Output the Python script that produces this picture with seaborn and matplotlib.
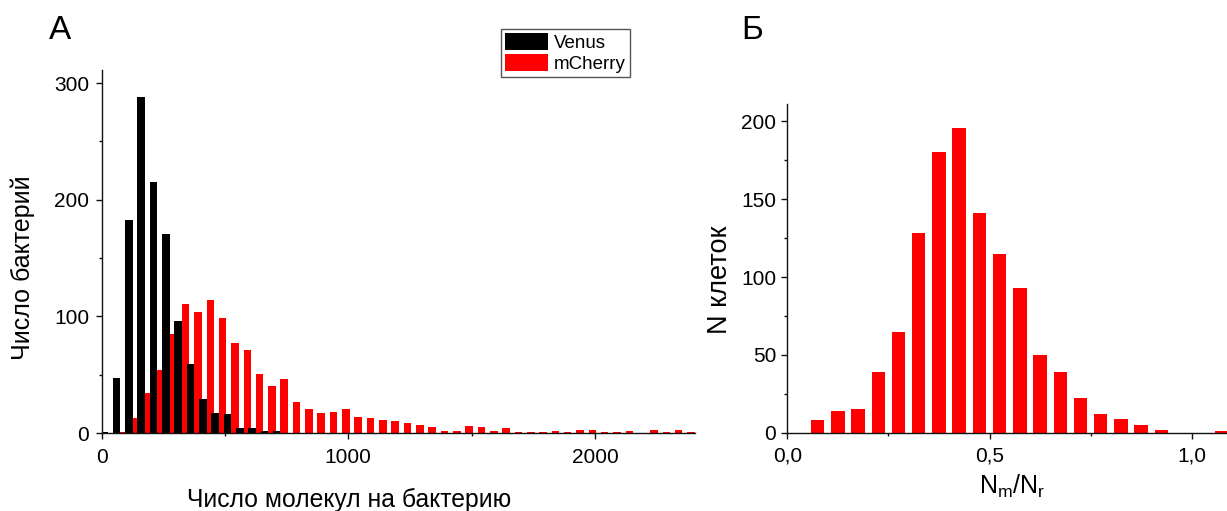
import numpy as np
import pandas as pd
import matplotlib
matplotlib.use("Agg")
import matplotlib.pyplot as plt
from matplotlib.patches import Patch
from matplotlib.ticker import FixedLocator, FixedFormatter, MultipleLocator
import seaborn as sns

# ---------------- data ----------------
# Panel А: histogram of molecule number per bacterium (bin width 50)
mol_bin_centers = [25, 75, 125, 175, 225, 275, 325, 375, 425, 475,
                   525, 575, 625, 675, 725, 775, 825, 875, 925, 975,
                   1025, 1075, 1125, 1175, 1225, 1275, 1325, 1375, 1425, 1475,
                   1525, 1575, 1625, 1675, 1725, 1775, 1825, 1875, 1925, 1975,
                   2025, 2075, 2125, 2175, 2225, 2275, 2325, 2375]
venus_counts = [1, 47, 183, 288, 215, 171, 96, 59, 29, 17,
                16, 4, 4, 2, 2, 0, 0, 0, 0, 0,
                0, 0, 0, 0, 0, 0, 0, 0, 0, 0,
                0, 0, 0, 0, 0, 0, 0, 0, 0, 0,
                0, 0, 0, 0, 0, 0, 0, 0]
mcherry_counts = [0, 1, 13, 34, 54, 85, 111, 104, 114, 99,
                  77, 71, 51, 40, 46, 27, 21, 17, 18, 21,
                  14, 13, 11, 10, 9, 7, 5, 2, 2, 6,
                  5, 2, 4, 1, 1, 1, 2, 1, 3, 3,
                  1, 1, 2, 0, 3, 1, 3, 1]
series_names = ["Venus", "mCherry"]
series_colors = ["#000000", "#ff0000"]

# Panel Б: histogram of Nm/Nr ratio (bin width 0.05)
ratio_bin_centers = [0.075, 0.125, 0.175, 0.225, 0.275, 0.325, 0.375, 0.425,
                     0.475, 0.525, 0.575, 0.625, 0.675, 0.725, 0.775, 0.825,
                     0.875, 0.925, 0.975, 1.025, 1.075]
ratio_counts = [8, 14, 15, 39, 65, 128, 180, 196,
                141, 115, 93, 50, 39, 22, 12, 9,
                5, 2, 0, 0, 1]

A_xticks = [0, 1000, 2000]
A_xticklabels = ["0", "1000", "2000"]
A_yticks = [0, 100, 200, 300]
A_yticklabels = ["0", "100", "200", "300"]
B_xticks = [0.0, 0.5, 1.0]
B_xticklabels = ["0,0", "0,5", "1,0"]
B_yticks = [0, 50, 100, 150, 200]
B_yticklabels = ["0", "50", "100", "150", "200"]

# ---------------- style ----------------
sns.set_style("ticks")
plt.rcParams['font.family'] = ['Liberation Sans', 'DejaVu Sans']
plt.rcParams['mathtext.fontset'] = 'custom'
plt.rcParams['mathtext.rm'] = 'Liberation Sans'
plt.rcParams['mathtext.it'] = 'Liberation Sans:italic'
plt.rcParams['text.color'] = 'black'
plt.rcParams['axes.labelcolor'] = 'black'
plt.rcParams['xtick.color'] = 'black'
plt.rcParams['ytick.color'] = 'black'
plt.rcParams['xtick.labelcolor'] = 'black'
plt.rcParams['ytick.labelcolor'] = 'black'

W, H = 1227, 511
fig = plt.figure(figsize=(W / 100, H / 100), dpi=100)
fig.patch.set_facecolor("white")

axA = fig.add_axes([101.7 / W, 1 - 433 / H, 593.1 / W, 362.8 / H])
axB = fig.add_axes([787.3 / W, 1 - 432.7 / H, 440.8 / W, 328.5 / H])

# ---- panel А ----
dfA = pd.DataFrame({
    "x": mol_bin_centers * 2,
    "n": venus_counts + mcherry_counts,
    "s": [series_names[0]] * len(mol_bin_centers) + [series_names[1]] * len(mol_bin_centers),
})
sns.histplot(data=dfA, x="x", weights="n", hue="s", hue_order=series_names,
             palette=dict(zip(series_names, series_colors)),
             binwidth=50, binrange=(0, 2400), multiple="dodge", shrink=1.2,
             alpha=1, linewidth=0, legend=False, ax=axA)

# ---- panel Б ----
dfB = pd.DataFrame({"x": ratio_bin_centers, "n": ratio_counts})
sns.histplot(data=dfB, x="x", weights="n", binwidth=0.05, binrange=(0.05, 1.1),
             shrink=0.66, color="#ff0000", alpha=1, linewidth=0, ax=axB)


def style_axis(ax, xt, xtl, xminor, yt, ytl, yminor, xpad, ypad):
    sns.despine(ax=ax)
    for side in ("left", "bottom"):
        ax.spines[side].set_linewidth(1.0)
        ax.spines[side].set_color("#111111")
    ax.xaxis.set_major_locator(FixedLocator(xt))
    ax.xaxis.set_major_formatter(FixedFormatter(xtl))
    ax.xaxis.set_minor_locator(MultipleLocator(xminor))
    ax.yaxis.set_major_locator(FixedLocator(yt))
    ax.yaxis.set_major_formatter(FixedFormatter(ytl))
    ax.yaxis.set_minor_locator(MultipleLocator(yminor))
    ax.tick_params(which="major", direction="out", length=4.5, width=1.0,
                   labelsize=15, color="#111111", labelcolor="black")
    ax.tick_params(axis="x", which="major", pad=xpad)
    ax.tick_params(axis="y", which="major", pad=ypad)
    ax.tick_params(which="minor", direction="out", length=2.5, width=1.0,
                   color="#111111")
    ax.set_facecolor("white")
    ax.grid(False)


style_axis(axA, A_xticks, A_xticklabels, 500, A_yticks, A_yticklabels, 50, 6.5, 4.5)
axA.set_xlim(0, 2405)
axA.set_ylim(0, 311)
axA.set_xlabel("Число молекул на бактерию", fontsize=17.8)
axA.set_ylabel("Число бактерий", fontsize=18)
axA.xaxis.set_label_coords((349 - 101.7) / 593.1, (433 - 488) / 362.8)
axA.yaxis.set_label_coords((35 - 101.7) / 593.1, (433 - 267.5) / 362.8)

style_axis(axB, B_xticks, B_xticklabels, 0.25, B_yticks, B_yticklabels, 25, 5.5, 3.5)
axB.set_xlim(0, 1.09)
axB.set_ylim(0, 211)
axB.set_xlabel(r"$\mathregular{N_m/N_r}$", fontsize=18)
axB.set_ylabel("N клеток", fontsize=19.5)
axB.xaxis.set_label_coords(0.51, (432.7 - 473) / 328.5)
axB.yaxis.set_label_coords((733 - 787.3) / 440.8, (432.7 - 280) / 328.5)

# legend
handles = [Patch(facecolor=c, edgecolor="none") for c in series_colors]
leg = fig.legend(handles, series_names, loc="upper left",
                 bbox_to_anchor=(501 / W, 1 - 29 / H), borderaxespad=0,
                 fontsize=13.5, handlelength=2.3, handleheight=1.0,
                 handletextpad=0.3, labelspacing=0.1, borderpad=0.22,
                 fancybox=False, framealpha=1, edgecolor="#555555")
leg.get_frame().set_linewidth(1.0)

# panel letters
fig.text(60.5 / W, 1 - 39 / H, "А", fontsize=24, ha="center", va="baseline")
fig.text(752.5 / W, 1 - 39 / H, "Б", fontsize=24, ha="center", va="baseline")

fig.savefig("out.png", dpi=100, facecolor="white")
